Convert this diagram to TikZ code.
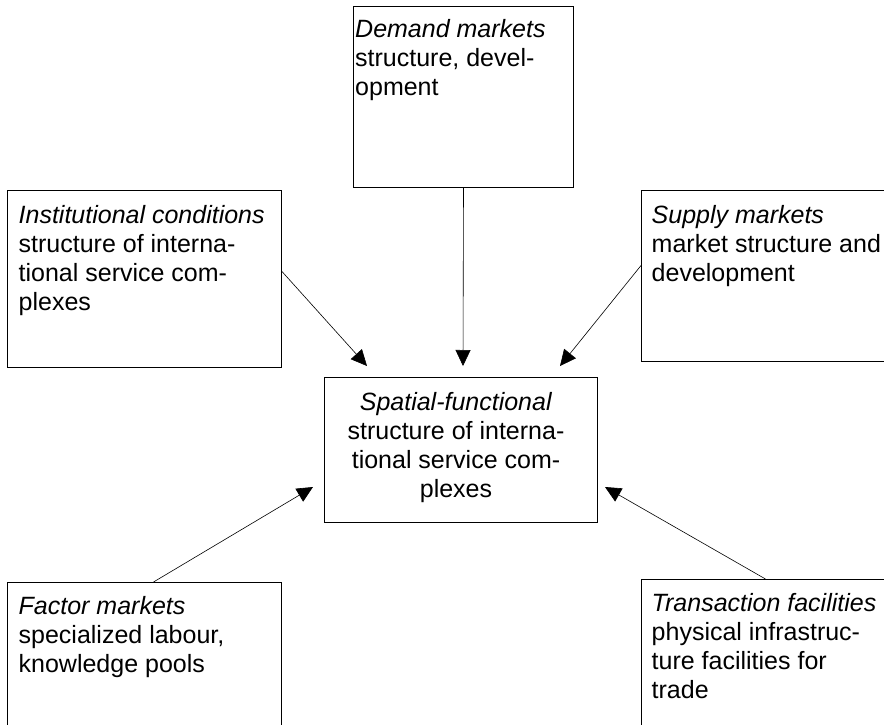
\documentclass[tikz,border=0pt]{standalone}
\usepackage{fontspec}
\setmainfont{Liberation Sans}
\usetikzlibrary{arrows.meta}
\begin{document}
\begin{tikzpicture}[x=1pt,y=-1pt,
  box/.style={draw=black, line width=1pt, rectangle, inner sep=0pt, anchor=north west},
  txt/.style={inner sep=0pt, font=\fontsize{25}{29}\selectfont, align=left, anchor=north west},
  ctxt/.style={inner sep=0pt, font=\fontsize{25}{29}\selectfont, align=center, anchor=north},
  arr/.style={draw=black, line width=0.6pt, -{Triangle[length=16pt,width=15pt]}}]
\clip (0,0) rectangle (884,724);
\fill[white] (0,0) rectangle (884,724);

% boxes
\node[box, minimum width=220pt, minimum height=181pt] (demand) at (353,6) {};
\node[box, minimum width=274pt, minimum height=177pt] (inst) at (7,190) {};
\node[box, minimum width=259pt, minimum height=171pt] (supply) at (641,190) {};
\node[box, minimum width=273pt, minimum height=145pt] (center) at (324,377) {};
\node[box, minimum width=274pt, minimum height=158pt] (factor) at (7,582) {};
\node[box, minimum width=259pt, minimum height=161pt] (trans) at (641,579) {};

% texts
\node[txt] (demandT) at ([shift={(2,10.5)}]demand.north west) {\strut\textit{Demand markets}\\structure, devel-\\opment};
\node[txt] (instT) at ([shift={(11.5,12.5)}]inst.north west) {\strut\textit{Institutional conditions}\\structure of interna-\\tional service com-\\plexes};
\node[txt] (supplyT) at ([shift={(10.5,12.5)}]supply.north west) {\strut\textit{Supply markets}\\market structure and\\development};
\node[ctxt] (centerT) at (456,389.7) {\strut\textit{Spatial-functional}\\structure of interna-\\tional service com-\\plexes};
\node[txt] (factorT) at ([shift={(11.5,11.7)}]factor.north west) {\strut\textit{Factor markets}\\specialized labour,\\knowledge pools};
\node[txt] (transT) at ([shift={(10.5,12.1)}]trans.north west) {\strut\textit{Transaction facilities}\\physical infrastruc-\\ture facilities for\\trade};

% arrow tips
\coordinate (tipI) at (367,366);
\coordinate (tipD) at (463,366);
\coordinate (tipS) at (560,366);
\coordinate (tipF) at (313,487);
\coordinate (tipT) at (605,487);

% connectors
\draw[arr] ([yshift=7.5pt]inst.east) -- (tipI);
\draw[arr] (demand.south) -- (tipD);
\draw[arr] ([yshift=10.5pt]supply.west) -- (tipS);
\draw[arr] ([xshift=9pt]factor.north) -- (tipF);
\draw[arr] ([xshift=-5.5pt]trans.north) -- (tipT);
\end{tikzpicture}
\end{document}
